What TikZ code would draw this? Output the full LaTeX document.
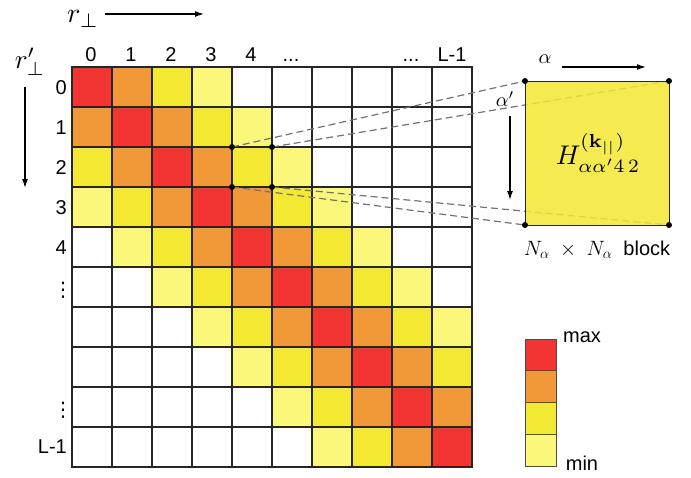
\documentclass[tikz,border=0pt]{standalone}
\usepackage{amsmath}
\usepackage{graphicx}
\usepackage[no-math]{fontspec}
\setmainfont{Liberation Sans}
\newfontfamily\djv{DejaVu Sans}
\usetikzlibrary{arrows.meta}
\definecolor{cred}{RGB}{242,52,50}
\definecolor{corange}{RGB}{241,153,56}
\definecolor{cyellow}{RGB}{243,232,50}
\definecolor{clight}{RGB}{251,247,122}
\newcommand\mbigger[2]{\scalebox{#1}{$#2$}}
\begin{document}
\begin{tikzpicture}[x=1pt,y=-1pt,
  cell/.style={draw=black!85,line width=1.3pt,minimum size=40pt,inner sep=0pt,outer sep=0pt},
  lbl/.style={font=\fontsize{20}{24}\selectfont,inner sep=0pt},
  mlbl/.style={inner sep=0pt},
  arr/.style={line width=1.3pt,-{Latex[length=9pt,width=6pt]}},
  dsh/.style={black!55,line width=1.2pt,dash pattern=on 7pt off 4pt},
  legbox/.style={draw=black!70,line width=0.8pt,minimum width=31pt,minimum height=31.75pt,inner sep=0pt,outer sep=0pt},
  dot/.style={circle,fill=black,inner sep=0pt,minimum size=6pt}]
\useasboundingbox (0,0) rectangle (691,477);
% matrix cells
\foreach \r in {0,...,9}{
  \foreach \c in {0,...,9}{
    \pgfmathtruncatemacro\d{abs(\r-\c)}
    \ifcase\d \def\cc{cred}\or \def\cc{corange}\or \def\cc{cyellow}\or \def\cc{clight}\else \def\cc{white}\fi
    \node[cell,fill=\cc] (c-\r-\c) at ({92+40*\c},{87+40*\r}) {};
  }
}
% column labels
\node[lbl,anchor=base] (col0) at (91,61) {0};
\node[lbl,anchor=base] (col1) at (131,61) {1};
\node[lbl,anchor=base] (col2) at (171,61) {2};
\node[lbl,anchor=base] (col3) at (211,61) {3};
\node[lbl,anchor=base] (col4) at (251,61) {4};
\node[lbl,anchor=base] (col5) at (291,61) {...};
\node[lbl,anchor=base] (col8) at (411,61) {...};
\node[lbl,anchor=base] (col9) at (452,61) {L-1};
% row labels
\node[lbl,anchor=east] (row0) at (67,88) {0};
\node[lbl,anchor=east] (row1) at (67,128) {1};
\node[lbl,anchor=east] (row2) at (67,168) {2};
\node[lbl,anchor=east] (row3) at (67,208) {3};
\node[lbl,anchor=east] (row4) at (67,248) {4};
\node[lbl] (row5) at (63,290) {\djv ⋮};
\node[lbl] (row8) at (63,410) {\djv ⋮};
\node[lbl,anchor=east] (row9) at (67,447) {L-1};
% axis labels and arrows
\node[mlbl] (rp) at (83,19) {\mbigger{2.8}{r_{\perp}}};
\coordinate (rpstart) at (105,14);
\coordinate (rpend) at (204,14);
\draw[arr] (rpstart) -- (rpend);
\node[mlbl] (rpp) at (30,62) {\mbigger{2.7}{r'_{\perp}}};
\coordinate (rppstart) at (25,87);
\coordinate (rppend) at (25,188);
\draw[arr] (rppstart) -- (rppend);
% dashed connectors
\coordinate (bnw) at (525,81);
\coordinate (bne) at (669,81);
\coordinate (bsw) at (525,225);
\coordinate (bse) at (669,225);
\draw[dsh] (c-2-4.north west) -- (bnw);
\draw[dsh] (c-2-4.north east) -- (bne);
\draw[dsh] (c-2-4.south west) -- (bsw);
\draw[dsh] (c-2-4.south east) -- (bse);
% block
\node[draw=black!85,line width=1pt,fill=cyellow,fill opacity=0.85,minimum size=144pt,inner sep=0pt,outer sep=0pt,anchor=north west] (blk) at (bnw) {};
\node[mlbl] (hlab) at (598,153) {\mbigger{2.7}{H^{(\mathbf{k}_{||})}_{\alpha\alpha'4\,2}}};
\node[dot] at (blk.north west) {};
\node[dot] at (blk.north east) {};
\node[dot] at (blk.south west) {};
\node[dot] at (blk.south east) {};
\node[dot] at (c-2-4.north west) {};
\node[dot] at (c-2-4.north east) {};
\node[dot] at (c-2-4.south west) {};
\node[dot] at (c-2-4.south east) {};
% block labels
\node[mlbl] (al) at (545,59) {\mbigger{2}{\alpha}};
\coordinate (alstart) at (562,67);
\coordinate (alend) at (646,67);
\draw[arr] (alstart) -- (alend);
\node[mlbl] (alp) at (505,99) {\mbigger{2}{\alpha'}};
\coordinate (alpstart) at (510,116);
\coordinate (alpend) at (510,200);
\draw[arr] (alpstart) -- (alpend);
\node[lbl] (nlab) at (597,250) {$N_\alpha\;\times\;N_\alpha$\ \ block};
% legend
\node[legbox,fill=cred] (l1) at (540.5,355) {};
\node[legbox,fill=corange,anchor=north] (l2) at (l1.south) {};
\node[legbox,fill=cyellow,anchor=north] (l3) at (l2.south) {};
\node[legbox,fill=clight,anchor=north] (l4) at (l3.south) {};
\node[lbl] (mx) at (582,337) {max};
\node[lbl] (mn) at (582,463) {min};
\end{tikzpicture}
\end{document}
